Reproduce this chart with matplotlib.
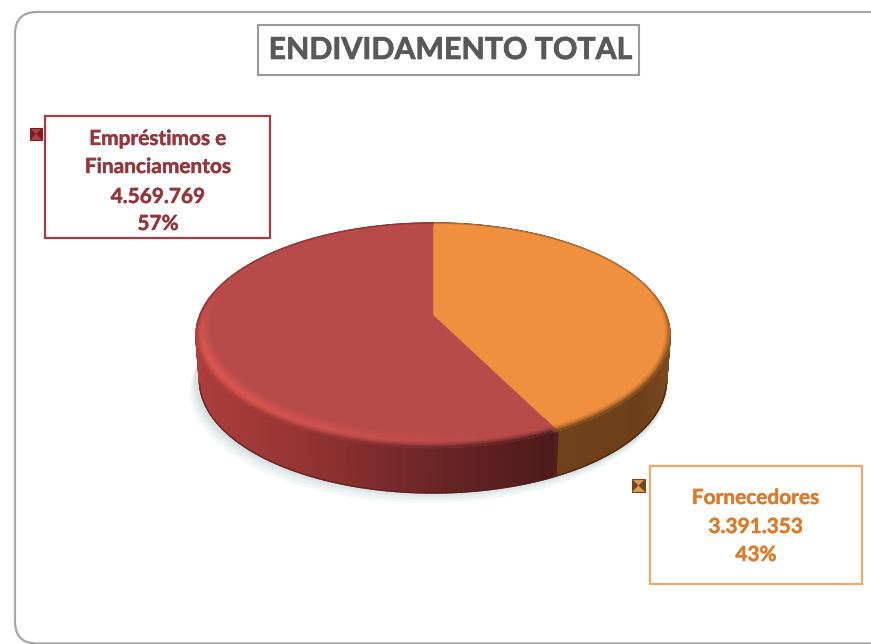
import matplotlib
matplotlib.use("Agg")
import matplotlib.pyplot as plt
import matplotlib.patheffects as pe
import numpy as np
from matplotlib.collections import PolyCollection
from matplotlib.patches import FancyBboxPatch, Polygon, Rectangle

TITLE = "ENDIVIDAMENTO TOTAL"
CATEGORIES = [["Fornecedores"], ["Empréstimos e", "Financiamentos"]]
VALUES = [3391353, 4569769]

FACE_COLORS = [(240, 143, 62), (184, 75, 74)]
TEXT_COLORS = ["#DD7A28", "#96353C"]
BOX_COLORS = ["#F2A765", "#A93A42"]

# pie geometry in pixels (3D look of the original is a perspective circle)
CX, CY = 433, 315
RX, RY = 233, 108.7
TILT = 0.182
DEPTH = 45

# side shading by screen x
SIDE_X = [196, 300, 360, 430, 480, 555, 556, 640, 670]
SIDE_R = [172, 150, 130, 108, 95, 76, 112, 110, 122]
SIDE_G = [62, 52, 45, 38, 32, 27, 66, 62, 76]
SIDE_B = [60, 52, 45, 38, 33, 27, 26, 25, 30]


def project(theta, r=1.0):
    u = r * np.sin(theta)
    v = r * np.cos(theta)
    s = 1.0 / (1.0 + TILT * v)
    return CX + RX * u * s, CY - RY * v * s


def side_color(x):
    return np.array([np.interp(x, SIDE_X, SIDE_R),
                     np.interp(x, SIDE_X, SIDE_G),
                     np.interp(x, SIDE_X, SIDE_B)]) / 255


def rim_points(theta, t):
    # t = 0 inner edge of bevel, t = 1 outer edge, stays on the radial line
    front = np.clip(-np.cos(theta), 0, 1)
    r = 0.95 - 0.055 * front + (0.05 + 0.055 * front) * t
    return project(theta, r)


def rim_color(theta, t, face, x_out):
    face = np.array(face) / 255
    side = side_color(x_out)
    front = np.clip(-np.cos(theta) + 0.25, 0, 1)
    left = np.clip((CX + 60 - x_out) / 300, 0, 1)
    light = face + (np.array([222, 88, 84]) / 255 - face) * left * (face[0] < 0.8)
    if t < 0.6:
        col = face + (light - face) * t / 0.6
    else:
        col = light + (side - light) * ((t - 0.6) / 0.4) ** 1.5
    return face + (col - face) * min(front * 1.6, 1)


def draw_pie(ax):
    total = sum(VALUES)
    angles = np.cumsum([0] + VALUES) / total * 2 * np.pi

    # soft shadow below the disc
    th = np.linspace(0, 2 * np.pi, 361)
    sx, sy = project(th)
    for off in [10, 7, 4, 2]:
        ax.add_patch(Polygon(np.c_[sx - off * 0.6, sy + DEPTH + off], closed=True,
                             fc=(0.55, 0.66, 0.68), ec="none", alpha=0.09))

    sweeps = [np.linspace(angles[i], angles[i + 1], 200) for i in range(len(VALUES))]

    # side walls
    for i, th in enumerate(sweeps):
        x, y = project(th)
        xb = CX + (x - CX) * 0.985
        yb = y + DEPTH
        polys, cols = [], []
        for k in range(len(th) - 1):
            polys.append([(x[k], y[k]), (x[k + 1], y[k + 1]),
                          (xb[k + 1], yb[k + 1]), (xb[k], yb[k])])
            cols.append(side_color((x[k] + x[k + 1]) / 2 + (0.5 if i == 0 else -0.5)))
        ax.add_collection(PolyCollection(polys, facecolors=cols, edgecolors=cols, linewidths=1.2))
        # dark line on the lower edge
        low = np.cos(th) < -0.2
        ax.plot(xb[low], yb[low], color=np.array(cols).mean(axis=0) * 0.6, lw=1.0, alpha=0.7,
                solid_capstyle="butt")

    # flat tops
    for th, face in zip(sweeps, FACE_COLORS):
        x, y = project(th)
        ax.add_patch(Polygon(np.vstack([[CX, CY], np.c_[x, y]]), closed=True,
                             fc=np.array(face) / 255, ec=np.array(face) / 255, lw=0.3))

    # bevel band
    for th, face in zip(sweeps, FACE_COLORS):
        x, y = project(th)
        ts = np.linspace(0, 1, 15)
        polys, cols = [], []
        for a in range(len(ts) - 1):
            xa, ya = rim_points(th, ts[a])
            xc, yc = rim_points(th, ts[a + 1])
            for k in range(len(th) - 1):
                polys.append([(xa[k], ya[k]), (xa[k + 1], ya[k + 1]),
                              (xc[k + 1], yc[k + 1]), (xc[k], yc[k])])
                cols.append(rim_color(th[k], (ts[a] + ts[a + 1]) / 2, face, x[k]))
        ax.add_collection(PolyCollection(polys, facecolors=cols, edgecolors=cols, linewidths=0.5))

        # dark thin edge at the back
        back = np.cos(th) > -0.1
        ax.plot(x[back], y[back], color=np.array(face) / 255 * 0.55, lw=0.9, alpha=0.55)


def draw_label(ax, box, key, lines, color, edge, ys, xc, size):
    x0, y0, x1, y1 = box
    ax.add_patch(Rectangle((x0, y0), x1 - x0, y1 - y0, fc="white", ec=edge, lw=1.6))
    for line, y in zip(lines, ys):
        ax.text(xc, y, line, color=color, fontsize=size, fontweight="bold",
                family="Lato", ha="center", va="center",
                path_effects=[pe.withStroke(linewidth=0.3, foreground=color)])
    kx, ky, kw, dark, mid = key
    ax.add_patch(Rectangle((kx, ky), kw, kw, fc=mid, ec=dark, lw=0.8))
    ax.add_patch(Polygon([(kx, ky), (kx + kw / 2, ky + kw / 2), (kx, ky + kw)], fc=dark, ec="none"))
    ax.add_patch(Polygon([(kx + kw, ky), (kx + kw / 2, ky + kw / 2), (kx + kw, ky + kw)], fc=dark, ec="none"))


def main():
    fig = plt.figure(figsize=(8.71, 6.44), dpi=100)
    ax = fig.add_axes([0, 0, 1, 1])
    ax.set_xlim(0, 871)
    ax.set_ylim(644, 0)
    ax.axis("off")

    ax.add_patch(FancyBboxPatch((15, 12), 880, 631.5, boxstyle="round,pad=0,rounding_size=22",
                                fc="white", ec="#A6A6A6", lw=1.6, clip_on=True))

    ax.add_patch(Rectangle((258, 25), 381, 50, fc="white", ec="#9A9A9A", lw=1.5))
    ax.text(450, 50, TITLE, color="#595959", fontsize=21.8, fontweight="bold",
            family="Lato", ha="center", va="center",
            path_effects=[pe.withStroke(linewidth=0.5, foreground="#595959")])

    draw_pie(ax)

    total = sum(VALUES)
    text = []
    for name, value in zip(CATEGORIES, VALUES):
        text.append(name + [f"{value:,}".replace(",", "."), f"{round(100 * value / total)}%"])

    draw_label(ax, (650, 466, 862, 584), (632, 479, 13, "#6E4A22", "#E09A50"), text[0],
               TEXT_COLORS[0], BOX_COLORS[0], [498, 527, 555], 756, 15)
    draw_label(ax, (45, 116, 270, 238), (30, 128, 12, "#7A1E26", "#B0444A"), text[1],
               TEXT_COLORS[1], BOX_COLORS[1], [139, 167, 197, 224], 158, 15)

    fig.savefig("out.png", dpi=100)


if __name__ == "__main__":
    main()
